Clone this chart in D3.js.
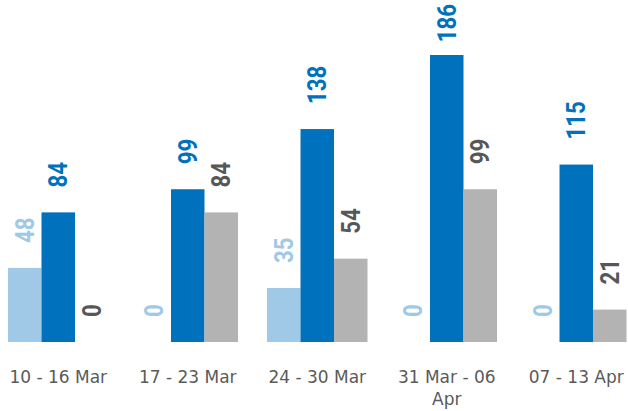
<!DOCTYPE html>
<html><head><meta charset="utf-8">
<script src="https://cdn.jsdelivr.net/npm/d3@7"></script>
<style>body{margin:0;background:#fff}svg{display:block}</style>
</head><body>
<svg id="c" width="628" height="411"></svg>
<script>
const categories = ["10 - 16 Mar","17 - 23 Mar","24 - 30 Mar","31 Mar - 06 Apr","07 - 13 Apr"];
const seriesNames = ["A","B","C"];
const seriesA = [48,0,35,0,0];
const seriesB = [84,99,138,186,115];
const seriesC = [0,84,54,99,21];
const barColors = ["#9fc9e6","#0071bc","#b3b3b3"];
const labelColors = ["#9fc9e6","#0071bc","#575757"];

const series = [seriesA, seriesB, seriesC];
const svg = d3.select("#c");
const baseY = 342, topY = 55;
const x0 = d3.scaleBand().domain(categories).range([8,626.5]).paddingInner(0.224).paddingOuter(0);
const x1 = d3.scaleBand().domain(seriesNames).range([0,x0.bandwidth()]).padding(0);
const y = d3.scaleLinear().domain([0,d3.max(series.flat())]).range([baseY,topY]);

const data = categories.map((c,i)=>({cat:c, vals:series.map((s,j)=>({k:seriesNames[j],v:s[i],j}))}));
const g = svg.selectAll("g.grp").data(data).join("g").attr("class","grp")
  .attr("transform",d=>`translate(${x0(d.cat)},0)`);
g.selectAll("rect").data(d=>d.vals).join("rect")
  .attr("x",d=>x1(d.k)).attr("width",x1.bandwidth())
  .attr("y",d=>y(d.v)).attr("height",d=>y(0)-y(d.v))
  .attr("fill",d=>barColors[d.j]);
const sx = 0.89;
g.selectAll("text.val").data(d=>d.vals).join("text").attr("class","val")
  .attr("dy","0.36em")
  .attr("font-family","Roboto, sans-serif").attr("font-weight","bold").attr("font-size",25)
  .attr("fill",d=>labelColors[d.j]).text(d=>d.v)
  .attr("transform",function(d){
    const len=this.getComputedTextLength()*sx;
    const pos=Math.max(y(d.v)-25, 4+len);
    return `translate(${x1(d.k)+x1.bandwidth()/2},${pos}) rotate(-90) scale(${sx},1)`;
  });

const ax = svg.append("g").attr("transform",`translate(0,${baseY})`)
  .call(d3.axisBottom(x0).tickSize(0).tickPadding(29));
ax.select(".domain").remove();
ax.selectAll("text").attr("font-family","DejaVu Sans, sans-serif").attr("font-size",17).attr("fill","#5a5a5a")
  .call(wrap, x0.step());

function wrap(texts,width){
  texts.each(function(){
    const t=d3.select(this), words=t.text().split(/\s+/);
    const yv=t.attr("y"), dy=parseFloat(t.attr("dy"));
    t.text(null);
    let line=[], ln=0, ts=t.append("tspan").attr("x",0).attr("y",yv).attr("dy",dy+"em");
    for(const w of words){
      line.push(w); ts.text(line.join(" "));
      if(ts.node().getComputedTextLength()>width && line.length>1){
        line.pop(); ts.text(line.join(" ")); line=[w];
        ts=t.append("tspan").attr("x",0).attr("y",yv).attr("dy",(++ln*1.3+dy)+"em").text(w);
      }
    }
  });
}
</script>
</body></html>
